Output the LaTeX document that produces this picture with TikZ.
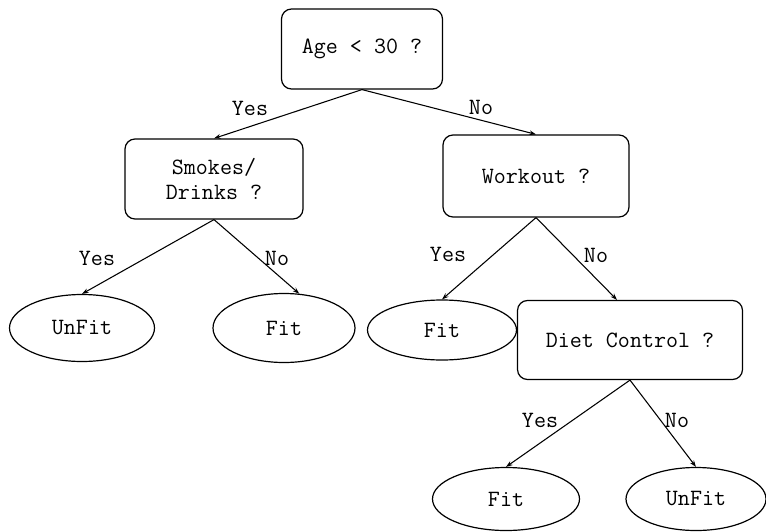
\documentclass[tikz,border=0pt]{standalone}
\usepackage{fontspec}
\usetikzlibrary{arrows.meta,shapes.geometric,calc}
\begin{document}
\begin{tikzpicture}[x=0.75pt,y=-0.75pt,
  every node/.style={font=\fontsize{17.5}{19}\selectfont\ttfamily},
  qbox/.style={draw,rounded corners=7.5pt,line width=0.9pt,inner sep=0pt,align=center},
  leaf/.style={draw,ellipse,line width=0.9pt,inner sep=0pt},
  edge/.style={line width=0.8pt,-{Stealth[length=5pt,width=3.5pt]}},
  lbl/.style={inner sep=0pt}]
\useasboundingbox (0,0) rectangle (766,531);
\node[qbox,minimum width=120.75pt,minimum height=60pt] (root) at (362,49) {Age < 30 ?};
\node[qbox,minimum width=133.5pt,minimum height=60pt] (smokes) at (214,179) {Smokes/\\Drinks ?};
\node[qbox,minimum width=139.5pt,minimum height=61.5pt] (workout) at (536,176) {Workout ?};
\node[qbox,minimum width=168.75pt,minimum height=59.25pt] (diet) at (630,340) {Diet Control ?};
\node[leaf,minimum width=108.75pt,minimum height=50.25pt] (unfitA) at (82,328) {UnFit};
\node[leaf,minimum width=106.5pt,minimum height=51.75pt] (fitA) at (284,328) {Fit};
\node[leaf,minimum width=111.75pt,minimum height=45pt] (fitB) at (442,330) {Fit};
\node[leaf,minimum width=110.25pt,minimum height=47.25pt] (fitC) at (506,499) {Fit};
\node[leaf,minimum width=105pt,minimum height=47.25pt] (unfitC) at (696,499) {UnFit};
\node[lbl] (l1) at (250,108) {Yes};
\node[lbl] (l2) at (481,107) {No};
\node[lbl] (l3) at (97,258) {Yes};
\node[lbl] (l4) at (277,258) {No};
\node[lbl] (l5) at (448,254) {Yes};
\node[lbl] (l6) at (596,255) {No};
\node[lbl] (l7) at (540,420) {Yes};
\node[lbl] (l8) at (677,420) {No};
\draw[edge] (root.south) -- (smokes.north);
\draw[edge] (root.south) -- (workout.north);
\draw[edge] (smokes.south) -- (unfitA.north);
\draw[edge] (smokes.south) -- (fitA.66);
\draw[edge] (workout.south) -- (fitB.north);
\draw[edge] (workout.south) -- ($(diet.north)+(-13,0)$);
\draw[edge] (diet.south) -- (fitC.north);
\draw[edge] (diet.south) -- (unfitC.north);
\end{tikzpicture}
\end{document}
